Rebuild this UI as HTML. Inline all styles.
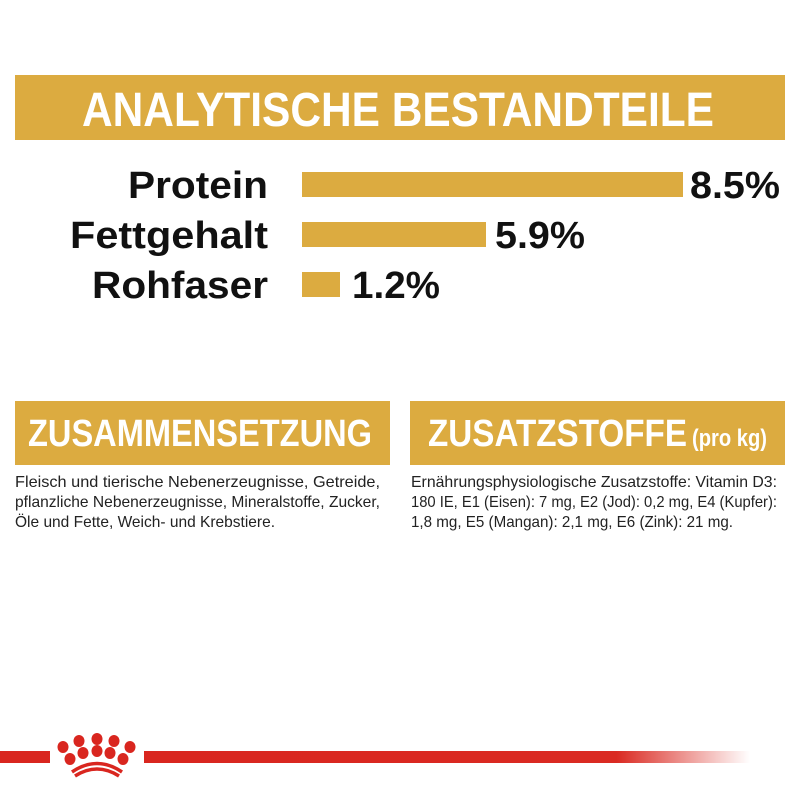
<!DOCTYPE html>
<html><head><meta charset="utf-8"><style>
html,body{margin:0;padding:0;background:#fff;width:800px;height:800px;overflow:hidden}
svg{display:block}
</style></head><body>
<svg width="800" height="800" viewBox="0 0 800 800" xmlns="http://www.w3.org/2000/svg">
<defs>
<linearGradient id="fade" x1="0" x2="1" y1="0" y2="0">
<stop offset="0" stop-color="#d9261f"/>
<stop offset="0.78" stop-color="#da2a22"/>
<stop offset="1" stop-color="#da2a22" stop-opacity="0"/>
</linearGradient>
</defs>
<rect x="15" y="75" width="770" height="65" fill="#dcab40"/>
<text x="82" y="126" font-family="Liberation Sans" font-weight="bold" font-size="48" fill="#fff" textLength="632" lengthAdjust="spacingAndGlyphs">ANALYTISCHE BESTANDTEILE</text>
<g font-family="Liberation Sans" font-weight="bold" font-size="38" fill="#111">
<text x="128" y="198" textLength="140" lengthAdjust="spacingAndGlyphs">Protein</text>
<text x="70" y="248" textLength="198" lengthAdjust="spacingAndGlyphs">Fettgehalt</text>
<text x="92" y="298" textLength="176" lengthAdjust="spacingAndGlyphs">Rohfaser</text>
<text x="690" y="198" textLength="90" lengthAdjust="spacingAndGlyphs">8.5%</text>
<text x="495" y="248" textLength="90" lengthAdjust="spacingAndGlyphs">5.9%</text>
<text x="352" y="298" textLength="88" lengthAdjust="spacingAndGlyphs">1.2%</text>
</g>
<rect x="302" y="172" width="381" height="25" fill="#dcab40"/>
<rect x="302" y="222" width="184" height="25" fill="#dcab40"/>
<rect x="302" y="272" width="38" height="25" fill="#dcab40"/>
<rect x="15" y="401" width="375" height="64" fill="#dcab40"/>
<rect x="410" y="401" width="375" height="64" fill="#dcab40"/>
<g font-family="Liberation Sans" font-weight="bold" fill="#fff">
<text x="28" y="446" font-size="38" textLength="344" lengthAdjust="spacingAndGlyphs">ZUSAMMENSETZUNG</text>
<text x="428" y="446" font-size="38" textLength="259" lengthAdjust="spacingAndGlyphs">ZUSATZSTOFFE</text>
<text x="692" y="446" font-size="24" textLength="75" lengthAdjust="spacingAndGlyphs">(pro kg)</text>
</g>
<g font-family="Liberation Sans" font-size="16" fill="#222">
<text x="15" y="487" textLength="365" lengthAdjust="spacingAndGlyphs">Fleisch und tierische Nebenerzeugnisse, Getreide,</text>
<text x="15" y="507" textLength="365" lengthAdjust="spacingAndGlyphs">pflanzliche Nebenerzeugnisse, Mineralstoffe, Zucker,</text>
<text x="15" y="527" textLength="260" lengthAdjust="spacingAndGlyphs">Öle und Fette, Weich- und Krebstiere.</text>
<text x="411" y="487" textLength="366" lengthAdjust="spacingAndGlyphs">Ernährungsphysiologische Zusatzstoffe: Vitamin D3:</text>
<text x="411" y="507" textLength="366" lengthAdjust="spacingAndGlyphs">180 IE, E1 (Eisen): 7 mg, E2 (Jod): 0,2 mg, E4 (Kupfer):</text>
<text x="411" y="527" textLength="322" lengthAdjust="spacingAndGlyphs">1,8 mg, E5 (Mangan): 2,1 mg, E6 (Zink): 21 mg.</text>
</g>
<rect x="0" y="751" width="50" height="12" fill="#d9261f"/>
<rect x="144" y="751" width="606" height="12" fill="url(#fade)"/>
<g fill="#d9261f">
<ellipse cx="79" cy="741" rx="5.5" ry="6"/>
<ellipse cx="97" cy="739" rx="5.5" ry="6"/>
<ellipse cx="114" cy="741" rx="5.5" ry="6"/>
<ellipse cx="63" cy="747" rx="5.5" ry="6"/>
<ellipse cx="130" cy="747" rx="5.5" ry="6"/>
<ellipse cx="83" cy="753" rx="5.5" ry="6"/>
<ellipse cx="97" cy="751" rx="5.5" ry="6"/>
<ellipse cx="110" cy="753" rx="5.5" ry="6"/>
<ellipse cx="70" cy="759" rx="5.5" ry="6"/>
<ellipse cx="123" cy="759" rx="5.5" ry="6"/>
</g>
<path d="M72 772 Q97 755 122 772" stroke="#d9261f" stroke-width="3.5" fill="none"/>
<path d="M75 776 Q97 762 119 776" stroke="#d9261f" stroke-width="3.5" fill="none"/>
</svg>
</body></html>
